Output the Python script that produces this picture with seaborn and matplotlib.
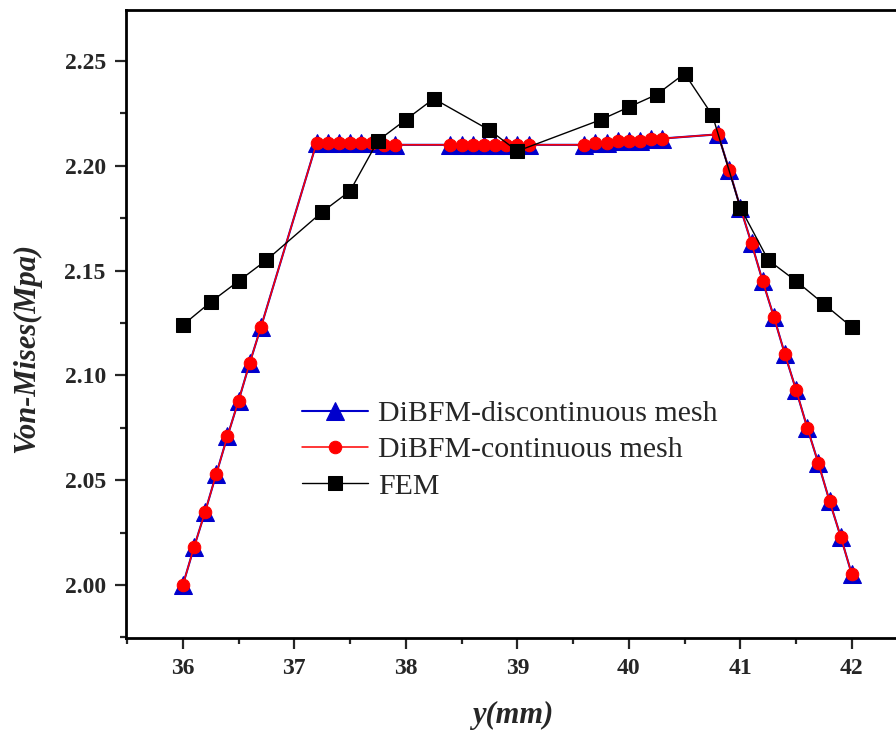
import matplotlib
matplotlib.use("Agg")
import matplotlib.pyplot as plt
import seaborn as sns
import pandas as pd
from matplotlib.ticker import MultipleLocator, FormatStrFormatter

# ---- data ----
dibfm_x = [36.0, 36.1, 36.2, 36.3, 36.4, 36.5, 36.6, 36.7,
           37.2, 37.3, 37.4, 37.5, 37.6, 37.7, 37.8, 37.9,
           38.4, 38.5, 38.6, 38.7, 38.8, 38.9, 39.0, 39.1,
           39.6, 39.7, 39.8, 39.9, 40.0, 40.1, 40.2, 40.3,
           40.8, 40.9, 41.0, 41.1, 41.2, 41.3, 41.4, 41.5, 41.6, 41.7, 41.8, 41.9, 42.0]
disc_y = [2.000, 2.018, 2.035, 2.053, 2.071, 2.088, 2.106, 2.123,
          2.211, 2.211, 2.211, 2.211, 2.211, 2.211, 2.210, 2.210,
          2.210, 2.210, 2.210, 2.210, 2.210, 2.210, 2.210, 2.210,
          2.210, 2.211, 2.211, 2.212, 2.212, 2.212, 2.213, 2.213,
          2.215, 2.198, 2.180, 2.163, 2.145, 2.128, 2.110, 2.093, 2.075, 2.058, 2.040, 2.023, 2.005]
cont_y = [2.000, 2.018, 2.035, 2.053, 2.071, 2.088, 2.106, 2.123,
          2.211, 2.211, 2.211, 2.211, 2.211, 2.211, 2.210, 2.210,
          2.210, 2.210, 2.210, 2.210, 2.210, 2.210, 2.210, 2.210,
          2.210, 2.211, 2.211, 2.212, 2.212, 2.212, 2.213, 2.213,
          2.215, 2.198, 2.180, 2.163, 2.145, 2.128, 2.110, 2.093, 2.075, 2.058, 2.040, 2.023, 2.005]
fem_x = [36.0, 36.25, 36.5, 36.75, 37.25, 37.5, 37.75, 38.0, 38.25, 38.75, 39.0,
         39.75, 40.0, 40.25, 40.5, 40.75, 41.0, 41.25, 41.5, 41.75, 42.0]
fem_y = [2.124, 2.135, 2.145, 2.155, 2.178, 2.188, 2.212, 2.222, 2.232, 2.217, 2.207,
         2.222, 2.228, 2.234, 2.244, 2.224, 2.180, 2.155, 2.145, 2.134, 2.123]

labels = ["DiBFM-discontinuous mesh", "DiBFM-continuous mesh", "FEM"]
x_ticks = [36, 37, 38, 39, 40, 41, 42]
y_ticks = [2.00, 2.05, 2.10, 2.15, 2.20, 2.25]

sns.set_style("ticks")
plt.rcParams["font.family"] = ["Liberation Serif", "DejaVu Serif"]

fig = plt.figure(figsize=(8.96, 7.35), dpi=100)
ax = fig.add_axes([126 / 896, 97 / 735, (900 - 126) / 896, (638 - 10) / 735])

df_disc = pd.DataFrame({"x": dibfm_x, "y": disc_y})
df_cont = pd.DataFrame({"x": dibfm_x, "y": cont_y})
df_fem = pd.DataFrame({"x": fem_x, "y": fem_y})

sns.lineplot(data=df_disc, x="x", y="y", ax=ax, color="#0000CC", marker="^",
             markersize=12.5, markeredgecolor="#0000CC", linewidth=1.5,
             label=labels[0], zorder=2)
sns.lineplot(data=df_cont, x="x", y="y", ax=ax, color="#FF0000", marker="o",
             markersize=9, markeredgecolor="#FF0000", linewidth=1.1,
             label=labels[1], zorder=3)
sns.lineplot(data=df_fem, x="x", y="y", ax=ax, color="black", marker="s",
             markersize=10, markeredgecolor="black", linewidth=1.0,
             label=labels[2], zorder=4)

ax.set_xlim(35.49, 35.49 + 774 / 111.5)
ax.set_ylim(1.9747, 1.9747 + 628 / 2096)
ax.set_xticks(x_ticks)
ax.set_yticks(y_ticks)
ax.xaxis.set_minor_locator(MultipleLocator(0.5))
ax.yaxis.set_minor_locator(MultipleLocator(0.025))
ax.yaxis.set_major_formatter(FormatStrFormatter("%.2f"))
ax.tick_params(which="major", direction="out", length=8, width=1.6, pad=6.5,
               labelsize=17, top=False, right=False)
ax.tick_params(which="minor", direction="out", length=4.5, width=1.6,
               top=False, right=False)
for lab in ax.get_xticklabels() + ax.get_yticklabels():
    lab.set_fontweight("bold")
for sp in ax.spines.values():
    sp.set_linewidth(2.0)
    sp.set_color("black")

ax.set_xlabel("y(mm)", fontsize=22, fontweight="bold", fontstyle="italic", labelpad=16)
ax.set_ylabel("Von-Mises(Mpa)", fontsize=22, fontweight="bold", fontstyle="italic")
ax.yaxis.set_label_coords(-0.11, 0.462)

ax.legend(loc="center left", bbox_to_anchor=(302 / 896, 1 - 450 / 735),
          bbox_transform=fig.transFigure, frameon=False, fontsize=21.5,
          handlelength=2.2, handletextpad=0.35, labelspacing=0.32,
          borderpad=0, borderaxespad=0)

fig.savefig("out.png", dpi=100)
